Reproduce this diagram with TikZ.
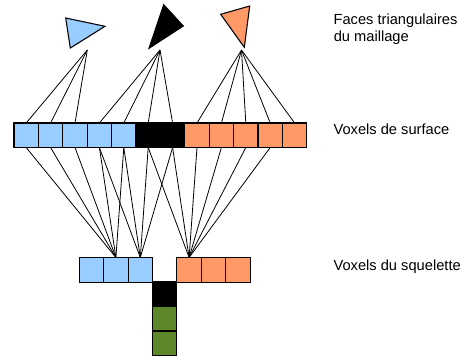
\documentclass[tikz,border=0pt]{standalone}
\usepackage{fontspec}
\setmainfont{Liberation Sans}
\definecolor{vblue}{RGB}{153,204,255}
\definecolor{vorange}{RGB}{255,153,102}
\definecolor{vgreen}{RGB}{94,135,41}
\begin{document}
\begin{tikzpicture}[x=0.75pt,y=-0.75pt,
  cell/.style={draw=black,line width=0.8pt,minimum width=18.3pt,minimum height=18.4pt,inner sep=0pt,outer sep=0pt,anchor=north west},
  bcell/.style={cell,fill=vblue},
  ocell/.style={cell,fill=vorange},
  kcell/.style={cell,fill=black},
  gcell/.style={cell,fill=vgreen},
  tri/.style={draw=black,line width=0.8pt,line join=miter},
  link/.style={draw=black,line width=0.6pt},
  lab/.style={font=\fontsize{11pt}{13pt}\selectfont,anchor=base west,inner sep=0pt}]
\useasboundingbox (0,0) rectangle (475,358);
% triangles
\draw[tri,fill=vblue] (65.7,18) -- (105,26.3) -- (70.3,48) -- cycle;
\draw[tri,fill=black] (163.7,4.7) -- (183.3,26) -- (149,48.3) -- cycle;
\draw[tri,fill=vorange] (220.7,14.3) -- (249.7,6) -- (244.3,47.3) -- cycle;
\coordinate (tb) at (87.3,50);
\coordinate (tk) at (160,50);
\coordinate (to) at (241.5,50);
% surface voxels
\node[bcell] (s1) at (14,123) {};
\node[bcell] (s2) at (38.4,123) {};
\node[bcell] (s3) at (62.8,123) {};
\node[bcell] (s4) at (87.2,123) {};
\node[bcell] (s5) at (111.6,123) {};
\node[kcell] (s6) at (136,123) {};
\node[kcell] (s7) at (160.4,123) {};
\node[ocell] (s8) at (184.8,123) {};
\node[ocell] (s9) at (209.2,123) {};
\node[ocell] (s10) at (233.6,123) {};
\node[ocell] (s11) at (258,123) {};
\node[ocell] (s12) at (282.4,123) {};
% skeleton voxels
\node[bcell] (k1) at (79.3,257.5) {};
\node[bcell] (k2) at (103.7,257.5) {};
\node[bcell] (k3) at (128.1,257.5) {};
\node[ocell] (k4) at (176.9,257.5) {};
\node[ocell] (k5) at (201.3,257.5) {};
\node[ocell] (k6) at (225.7,257.5) {};
\node[kcell] (k7) at (152.5,282) {};
\node[gcell] (k8) at (152.5,306.5) {};
\node[gcell] (k9) at (152.5,331) {};
% faces to surface voxels
\foreach \c in {s1,s2,s3} \draw[link] (tb) -- (\c.north);
\foreach \c in {s4,s5,s6,s7} \draw[link] (tk) -- (\c.north);
\foreach \c in {s8,s9,s10,s11,s12} \draw[link] (to) -- (\c.north);
% surface voxels to skeleton voxels
\foreach \c in {s1,s2,s3,s4,s5} \draw[link] (\c.south) -- (k2.north);
\foreach \c in {s4,s5,s6,s7} \draw[link] (\c.south) -- (k3.north);
\foreach \c in {s6,s7,s8,s9,s10,s11} \draw[link] (\c.south) -- (k4.north);
% labels
\node[lab] (l1) at (333.3,24) {Faces triangulaires};
\node[lab] (l2) at (333.5,41.5) {du maillage};
\node[lab] (l3) at (333.3,134.7) {Voxels de surface};
\node[lab] (l4) at (333.3,270.7) {Voxels du squelette};
\end{tikzpicture}
\end{document}
